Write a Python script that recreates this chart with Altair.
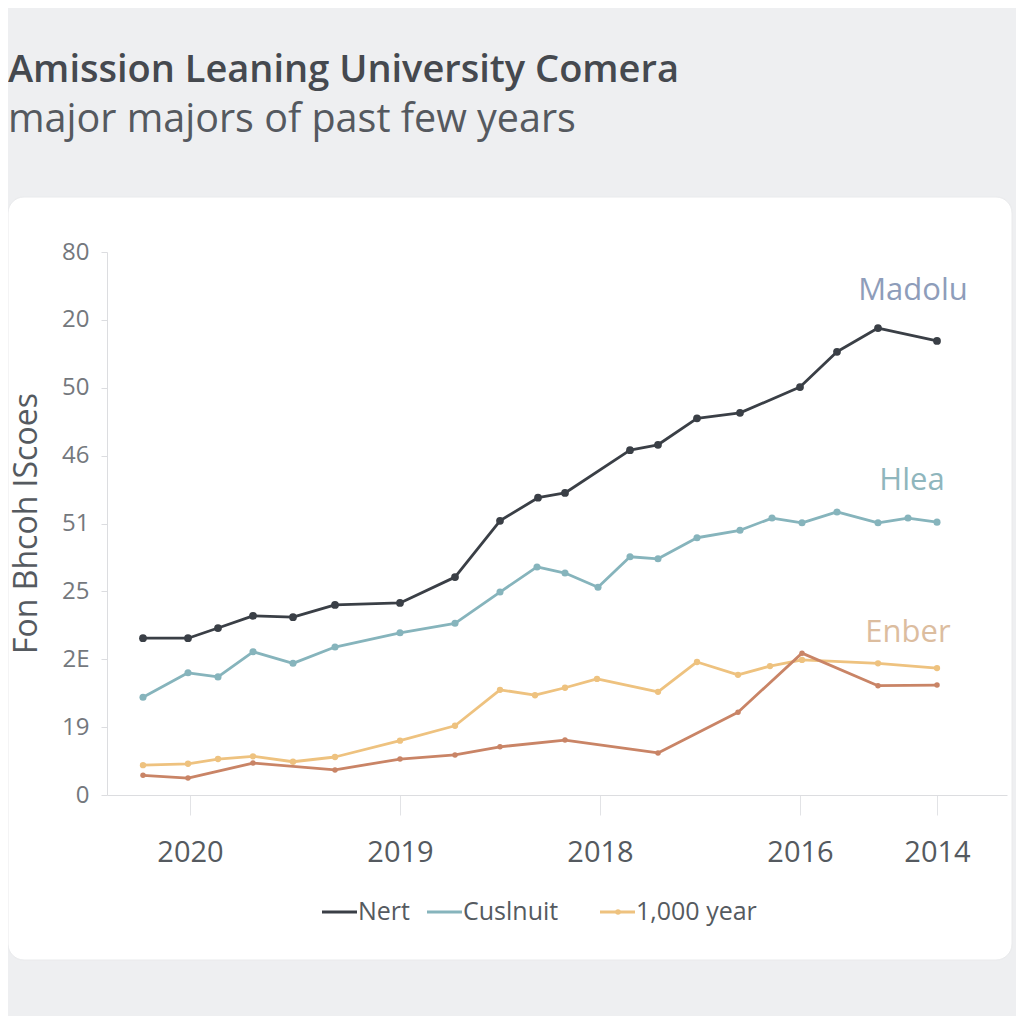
import altair as alt
import pandas as pd

# ---------------- data ----------------
title_text = "Amission Leaning University Comera"
subtitle_text = "major majors of past few years"
y_title = "Fon Bhcoh IScoes"

y_tick_values = [0, 10, 20, 30, 40, 50, 60, 70, 80]
y_tick_labels = ["0", "19", "2E", "25", "51", "46", "50", "20", "80"]

x_tick_values = [8.3, 29.3, 49.3, 69.3, 83.0]
x_tick_labels = ["2020", "2019", "2018", "2016", "2014"]

legend_names = ["Nert", "Cuslnuit", "1,000 year"]
red_name = "Enber"
series_names = legend_names + [red_name]
series_colors = ["#3a3f46", "#86b4bc", "#eec27f", "#c98466"]

nert_x = [3.6, 8.1, 11.1, 14.6, 18.6, 22.8, 29.3, 34.8, 39.3, 43.1, 45.8, 52.3, 55.1, 59.0, 63.3, 69.3, 73.0, 77.1, 83.0]
nert_y = [23.1, 23.1, 24.6, 26.4, 26.2, 28.0, 28.3, 32.1, 40.4, 43.8, 44.5, 50.8, 51.6, 55.5, 56.3, 60.1, 65.3, 68.8, 66.9]

cusl_x = [3.6, 8.1, 11.1, 14.6, 18.6, 22.8, 29.3, 34.8, 39.3, 43.0, 45.8, 49.1, 52.3, 55.1, 59.0, 63.3, 66.5, 69.5, 73.0, 77.1, 80.1, 83.0]
cusl_y = [14.4, 18.0, 17.4, 21.1, 19.4, 21.8, 23.9, 25.3, 29.9, 33.6, 32.7, 30.6, 35.1, 34.8, 37.9, 39.0, 40.8, 40.1, 41.7, 40.1, 40.8, 40.2]

year_x = [3.6, 8.1, 11.1, 14.6, 18.6, 22.8, 29.3, 34.8, 39.3, 42.8, 45.8, 49.0, 55.1, 59.0, 63.1, 66.3, 69.5, 77.1, 83.0]
year_y = [4.4, 4.6, 5.3, 5.7, 4.9, 5.6, 8.0, 10.2, 15.5, 14.7, 15.8, 17.1, 15.2, 19.6, 17.7, 19.0, 19.9, 19.4, 18.7]

red_x = [3.6, 8.1, 14.6, 22.8, 29.3, 34.8, 39.3, 45.8, 55.1, 63.1, 69.5, 77.1, 83.0]
red_y = [2.9, 2.5, 4.7, 3.7, 5.3, 5.9, 7.1, 8.1, 6.2, 12.2, 20.9, 16.1, 16.2]

label_texts = ["Madolu", "Hlea", "Enber"]
label_x = [80.6, 80.5, 80.1]
label_y = [74.3, 46.3, 23.9]
label_colors = ["#8e9dba", "#8fb6bd", "#dcbd9f"]

# ---------------- tables ----------------
rows = []
for name, xs, ys in [(series_names[0], nert_x, nert_y), (series_names[1], cusl_x, cusl_y),
                     (series_names[2], year_x, year_y), (series_names[3], red_x, red_y)]:
    for xv, yv in zip(xs, ys):
        rows.append({"series": name, "x": xv, "y": yv})
df = pd.DataFrame(rows)
labels_df = pd.DataFrame({"t": label_texts, "x": label_x, "y": label_y, "c": label_colors})

FONT = "Open Sans"
W, H = 900, 543

y_expr = "[" + ",".join("'%s'" % s for s in y_tick_labels) + "][round(datum.value/10)]"
x_expr = ""
for v, s in zip(x_tick_values, x_tick_labels):
    x_expr += "abs(datum.value-%s)<0.01 ? '%s' : " % (v, s)
x_expr += "''"

xscale = alt.Scale(domain=[0, 90], nice=False, zero=False)
yscale = alt.Scale(domain=[0, 80], nice=False)
color_scale = alt.Scale(domain=series_names, range=series_colors)

card = alt.Chart(pd.DataFrame({"a": [1]})).mark_rect(
    fill="white", cornerRadius=16, stroke="#e9eaec", strokeWidth=1
).encode(x=alt.value(-99), x2=alt.value(905), y=alt.value(-55), y2=alt.value(708))

base = alt.Chart(df)

lines = base.mark_line(strokeWidth=2.8, strokeJoin="round").encode(
    x=alt.X("x:Q", scale=xscale,
            axis=alt.Axis(values=x_tick_values, labelExpr=x_expr, title=None, grid=False, zindex=1,
                          domainColor="#dcdde0", tickColor="#e2e3e6", tickSize=20,
                          labelPadding=23, labelFontSize=29, labelColor="#555a60",
                          labelFont=FONT)),
    y=alt.Y("y:Q", scale=yscale,
            axis=alt.Axis(values=y_tick_values, labelExpr=y_expr, title=None, grid=False, zindex=1,
                          domainColor="#dcdde0", tickColor="#dcdde0", tickSize=6,
                          labelPadding=12, labelFontSize=24, labelColor="#74787d",
                          labelFont=FONT)),
    color=alt.Color("series:N", scale=color_scale, legend=None),
    detail="series:N",
)

points = base.mark_circle(opacity=1).encode(
    x="x:Q", y="y:Q",
    color=alt.Color("series:N", scale=color_scale, legend=None),
    size=alt.Size("series:N", scale=alt.Scale(domain=series_names, range=[60, 30, 30, 50]), legend=None),
)

series_labels = alt.Chart(labels_df).mark_text(font=FONT, fontSize=31, align="center", baseline="middle").encode(
    x="x:Q", y="y:Q", text="t:N", color=alt.Color("c:N", scale=None)
)

ytitle = alt.Chart(pd.DataFrame({"t": [y_title]})).mark_text(
    font=FONT, fontSize=32, color="#555a60", angle=270, align="center", baseline="middle"
).encode(text="t:N", x=alt.value(-80), y=alt.value(H / 2))

# manual legend (layout positions in pixels)
leg_df = pd.DataFrame({
    "name": legend_names,
    "color": series_colors[:3],
    "x1": [215, 320, 493],
    "x2": [250, 355, 528],
})
leg_lines = alt.Chart(leg_df).mark_rule(strokeWidth=3).encode(
    x=alt.X("x1:Q", scale=None), x2="x2:Q", y=alt.value(660), color=alt.Color("color:N", scale=None)
)
leg_dot = alt.Chart(leg_df.iloc[[2]]).mark_circle(size=30, opacity=1).encode(
    x=alt.value(511), y=alt.value(660), color=alt.Color("color:N", scale=None)
)
leg_text = alt.Chart(leg_df).mark_text(font=FONT, fontSize=25, color="#555a60", align="left",
                                       baseline="middle", dx=1).encode(
    x=alt.X("x2:Q", scale=None), y=alt.value(660), text="name:N"
)

title = alt.Chart(pd.DataFrame({"t": [title_text]})).mark_text(
    font=FONT, fontSize=38, fontWeight=600, color="#45494f", align="left", baseline="alphabetic"
).encode(text="t:N", x=alt.value(-99), y=alt.value(-170))

subtitle = alt.Chart(pd.DataFrame({"t": [subtitle_text]})).mark_text(
    font=FONT, fontSize=39.5, fontWeight="normal", color="#55595f", align="left", baseline="alphabetic"
).encode(text="t:N", x=alt.value(-99), y=alt.value(-120))

chart = alt.layer(card, lines, points, series_labels, ytitle, leg_lines, leg_dot, leg_text, title, subtitle).properties(
    width=W, height=H, autosize="none",
    padding={"left": 99, "top": 244, "right": 9, "bottom": 221},
    background="#eeeff1",
).configure_view(stroke=None)

chart.save("out.html", embed_options={"renderer": "svg", "actions": False})
